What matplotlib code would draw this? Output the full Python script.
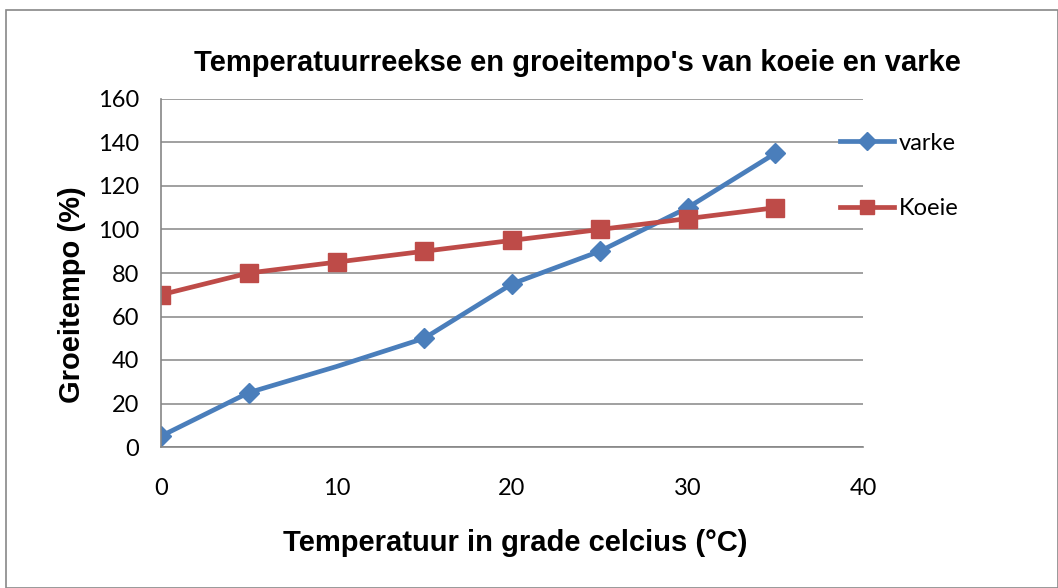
import matplotlib.pyplot as plt
from matplotlib.patches import Rectangle

plt.rcParams['font.family'] = ['Liberation Sans', 'DejaVu Sans']

# data
temp = [0, 5, 10, 15, 20, 25, 30, 35]
varke = [5, 25, 37, 50, 75, 90, 110, 135]
koeie = [70, 80, 85, 90, 95, 100, 105, 110]
x_ticks = [0, 10, 20, 30, 40]
y_ticks = [0, 20, 40, 60, 80, 100, 120, 140, 160]

BLUE = '#4A7EBB'
RED = '#BE4B48'
GRID = '#868686'
TICKFONT = ['Lato', 'DejaVu Sans']

W, H = 1058, 588
fig = plt.figure(figsize=(W / 100, H / 100), dpi=100)
fig.patches.append(Rectangle((6 / W, 0), 1 - 6 / W, 1 - 10 / H, transform=fig.transFigure,
                             fill=False, edgecolor='#888888', linewidth=1.2))

ax = fig.add_axes([161 / W, 1 - 447 / H, (863 - 161) / W, (447 - 99) / H])

ax.plot(temp, varke, color=BLUE, linewidth=3.4, marker='D', markersize=10.5,
        markevery=[0, 1, 3, 4, 5, 6, 7], label='varke', solid_joinstyle='round')
ax.plot(temp, koeie, color=RED, linewidth=3.4, marker='s', markersize=12.5,
        label='Koeie')

ax.set_xlim(0, 40)
ax.set_ylim(0, 160)
ax.set_xticks(x_ticks)
ax.set_yticks(y_ticks)
ax.grid(axis='y', color=GRID, linewidth=1.1)
ax.set_axisbelow(True)
for s in ['top', 'right']:
    ax.spines[s].set_visible(False)
for s in ['left', 'bottom']:
    ax.spines[s].set_color(GRID)
    ax.spines[s].set_linewidth(1.2)
ax.tick_params(axis='y', length=0, labelsize=17, pad=16)
ax.tick_params(axis='x', length=0, labelsize=17, pad=22)
for lbl in ax.get_xticklabels() + ax.get_yticklabels():
    lbl.set_family(TICKFONT)

fig.text(577 / W, 1 - 63 / H, "Temperatuurreekse en groeitempo's van koeie en varke",
         fontsize=21, fontweight='bold', ha='center', va='center')
fig.text(515 / W, 1 - 543 / H, 'Temperatuur in grade celcius (°C)',
         fontsize=21, fontweight='bold', ha='center', va='center')
fig.text(72 / W, 1 - 295 / H, 'Groeitempo (%)', rotation=90,
         fontsize=21, fontweight='bold', ha='center', va='center')

leg = ax.legend(loc='center left', bbox_to_anchor=(840 / W, 1 - 176 / H),
                bbox_transform=fig.transFigure, frameon=False, prop={'family': TICKFONT, 'size': 17},
                labelspacing=1.9, handlelength=2.3, handletextpad=0.2, borderpad=0,
                borderaxespad=0, markerscale=0.85)

plt.savefig('out.png', dpi=100, facecolor='white')
